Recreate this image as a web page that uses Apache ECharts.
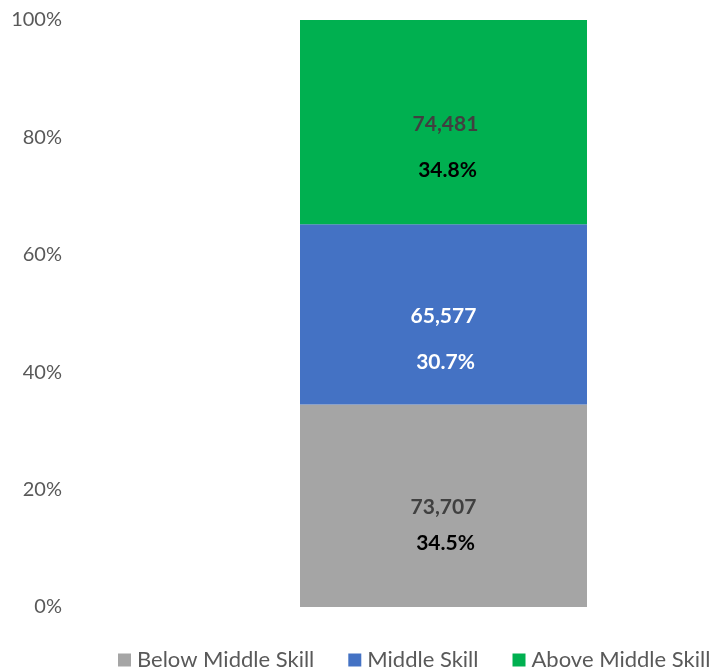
<!DOCTYPE html>
<html><head><meta charset="utf-8">
<script src="https://cdn.jsdelivr.net/npm/echarts@6/dist/echarts.min.js"></script>
<style>html,body{margin:0;padding:0;background:#fff}#c{width:715px;height:670px}</style>
</head><body><div id="c"></div>
<script>
const categories = ['Total'];
const seriesNames = ['Below Middle Skill', 'Middle Skill', 'Above Middle Skill'];
const shares = [34.5, 30.7, 34.8];
const counts = ['73,707', '65,577', '74,481'];
const shareLabels = ['34.5%', '30.7%', '34.8%'];
const yTicks = [0, 20, 40, 60, 80, 100];

const colors = ['#A5A5A5', '#4472C4', '#00B050'];
const valueColors = ['#404040', '#FFFFFF', '#404040'];
const pctColors = ['#000000', '#FFFFFF', '#000000'];
const offsets = [[0, 19], [0, 25], [2, 25]];
const gaps = [[0, 12], [0, 22], [0, 22]];

const font = 'Lato, "Open Sans", sans-serif';
const series = seriesNames.map((name, i) => ({
  name, type: 'bar', stack: 'all', barWidth: 287,
  itemStyle: { color: colors[i] },
  data: [{
    value: shares[i],
    label: {
      show: true, position: 'inside', offset: offsets[i],
      formatter: () => '{v|' + counts[i] + '}\n{g|}\n{p|' + shareLabels[i] + '}',
      rich: {
        v: { fontFamily: font, fontWeight: 'bold', fontSize: 21, color: valueColors[i], lineHeight: 24 },
        g: { height: gaps[i][1], lineHeight: gaps[i][1] },
        p: { fontFamily: font, fontWeight: 'bold', fontSize: 21, color: pctColors[i], lineHeight: 24, padding: [0, 0, 0, 4] }
      }
    }
  }]
}));

const chart = echarts.init(document.getElementById('c'));
chart.setOption({
  animation: false,
  grid: { left: 172, right: 0, top: 20, bottom: 63 },
  legend: {
    left: 118, top: 649, width: 597, padding: 0, itemWidth: 13, itemHeight: 13, itemGap: 34,
    icon: 'rect',
    textStyle: { fontFamily: font, fontSize: 22, color: '#595959', padding: [0, 0, 0, 1] },
    data: seriesNames
  },
  xAxis: { type: 'category', data: categories, axisLine: { show: false }, axisTick: { show: false }, axisLabel: { show: false } },
  yAxis: {
    type: 'value', min: yTicks[0], max: yTicks[yTicks.length - 1], interval: 20,
    splitLine: { show: false }, axisLine: { show: false }, axisTick: { show: false },
    axisLabel: { margin: 110, formatter: '{value}%', fontFamily: font, fontSize: 20, color: '#595959' }
  },
  series
});
</script></body></html>
